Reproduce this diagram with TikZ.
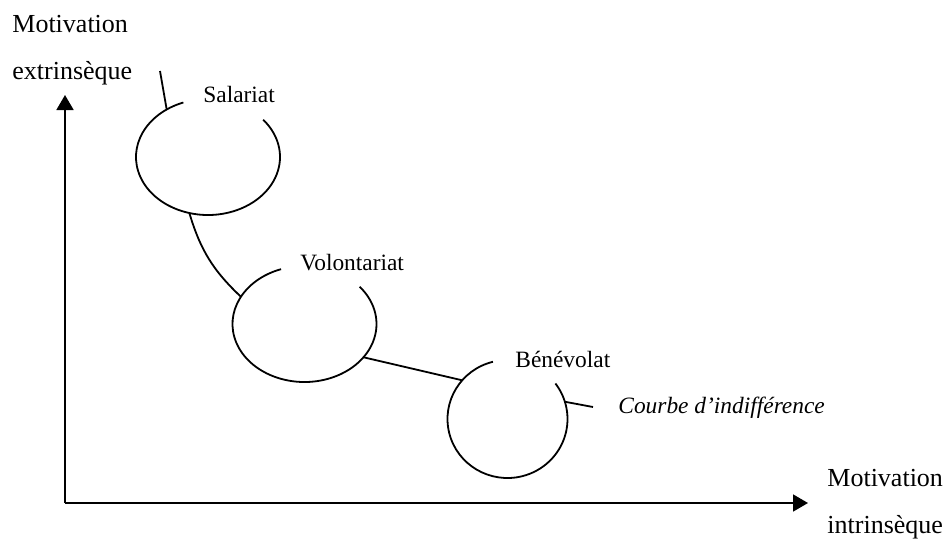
\documentclass[tikz,border=0pt]{standalone}
\usepackage{fontspec}
\setmainfont{Liberation Serif}
\usetikzlibrary{arrows.meta,calc}
\tikzset{
  axe/.style={line width=0.9pt, -{Triangle[length=7.5pt,width=8.5pt]}},
  courbe/.style={line width=0.9pt},
  lien/.style={line width=0.9pt},
  etiq/.style={font=\fontsize{11.7}{14}\selectfont, anchor=base west, inner sep=0pt},
  axelab/.style={font=\fontsize{13}{23.5}\selectfont, align=left, anchor=base west, inner sep=0pt},
}
\begin{document}
\begin{tikzpicture}[x=0.5pt,y=0.5pt]
  \useasboundingbox (0,0) rectangle (947,538);
  % axes
  \coordinate (o) at (65,35);
  \coordinate (ytip) at (65,443);
  \coordinate (xtip) at (808,35);
  \draw[axe] (o) -- (ytip);
  \draw[axe] (o) -- (xtip);
  \node[axelab] (motext) at (12,459) {Motivation\\extrinsèque};
  \node[axelab] (motint) at (827,5) {Motivation\\intrinsèque};
  % bulles
  \coordinate (sal) at (208,381);
  \coordinate (vol) at (304.5,214);
  \coordinate (ben) at (507.5,119);
  \draw[courbe] (sal) ++(110:72 and 58) arc[start angle=110, end angle=400, x radius=72, y radius=58];
  \draw[courbe] (vol) ++(109:72 and 58) arc[start angle=109, end angle=400, x radius=72, y radius=58];
  \draw[courbe] (ben) ++(104:60 and 59) arc[start angle=104, end angle=397, x radius=60, y radius=59];
  \node[etiq] (lsal) at (203,436) {Salariat};
  \node[etiq] (lvol) at (300,268) {Volontariat};
  \node[etiq] (lben) at (515,171) {Bénévolat};
  \node[etiq, font=\fontsize{11.7}{14}\selectfont\itshape] (lcourbe) at (618,125) {Courbe d’indifférence};
  % liens
  \path (sal) ++(125:72 and 58) coordinate (sal-n);
  \path (sal) ++(255:72 and 58) coordinate (sal-s);
  \path (vol) ++(152:72 and 58) coordinate (vol-w);
  \path (vol) ++(325:72 and 58) coordinate (vol-e);
  \path (ben) ++(139:60 and 59) coordinate (ben-w);
  \path (ben) ++(17:60 and 59) coordinate (ben-e);
  \coordinate (sal-t) at (160,467);
  \coordinate (ben-t) at (593,131);
  \draw[lien] (sal-t) -- (sal-n);
  \draw[lien] (sal-s) to[bend right=15] (vol-w);
  \draw[lien] (vol-e) -- (ben-w);
  \draw[lien] (ben-e) -- (ben-t);
\end{tikzpicture}
\end{document}
